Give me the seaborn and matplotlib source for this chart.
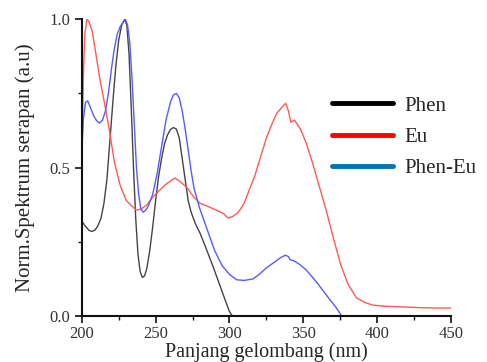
import numpy as np
import pandas as pd
import matplotlib
matplotlib.use("Agg")
import matplotlib.pyplot as plt
import seaborn as sns
from matplotlib.lines import Line2D
from matplotlib.ticker import MultipleLocator, FormatStrFormatter

phen_x = [200, 202, 205, 207, 209, 211, 213, 215, 217, 219, 221, 223, 225, 227, 229, 230.5, 232, 233.5, 235, 236.5, 238, 239.5, 241, 242.5, 244, 246, 248, 250, 252, 254, 256, 258, 260, 262, 264, 266, 268, 270, 272, 274, 277, 280, 284, 289, 293, 297, 300, 302]
phen_y = [0.32, 0.305, 0.288, 0.285, 0.29, 0.305, 0.33, 0.38, 0.46, 0.59, 0.72, 0.84, 0.93, 0.98, 1.0, 0.98, 0.88, 0.70, 0.5, 0.33, 0.21, 0.15, 0.13, 0.135, 0.16, 0.22, 0.3, 0.39, 0.47, 0.53, 0.58, 0.61, 0.628, 0.635, 0.63, 0.6, 0.53, 0.46, 0.39, 0.35, 0.31, 0.28, 0.23, 0.165, 0.11, 0.055, 0.015, 0.0]

phen_eu_x = [200, 201, 202.5, 204, 206, 208, 210, 212, 214, 216, 218, 220, 222, 224, 226, 228, 229.5, 231, 232.5, 234, 235.5, 237, 238.5, 240, 241.5, 243, 245, 248, 251, 254, 257, 260, 262, 264, 266, 268, 270, 272, 274, 276, 280, 285, 290, 295, 300, 305, 310, 316, 320, 325, 330, 335, 338, 340, 341, 344, 348, 352, 358, 363, 368, 372, 376]
phen_eu_y = [0.55, 0.66, 0.72, 0.725, 0.70, 0.675, 0.658, 0.65, 0.66, 0.69, 0.75, 0.83, 0.9, 0.95, 0.975, 0.99, 1.0, 0.98, 0.92, 0.8, 0.65, 0.5, 0.41, 0.36, 0.35, 0.355, 0.37, 0.41, 0.48, 0.57, 0.66, 0.72, 0.745, 0.75, 0.735, 0.69, 0.63, 0.56, 0.49, 0.43, 0.36, 0.29, 0.22, 0.17, 0.14, 0.122, 0.12, 0.125, 0.14, 0.162, 0.18, 0.198, 0.205, 0.2, 0.19, 0.185, 0.172, 0.155, 0.12, 0.088, 0.055, 0.03, 0.0]

eu_x = [200, 201, 202, 203.5, 205, 207, 209, 212, 216, 219, 222, 226, 230, 234, 237, 240, 244, 248, 252, 256, 260, 263, 266, 271, 276, 280, 285, 291, 296, 299, 302, 305, 307, 310, 313, 317, 321, 325, 329, 332, 335, 338, 340, 341.5, 344, 348, 352, 356, 359, 363, 366, 370, 375, 380, 386, 392, 397, 405, 412, 420, 430, 440, 450]
eu_y = [0.5, 0.8, 0.95, 1.0, 0.99, 0.96, 0.9, 0.805, 0.7, 0.616, 0.52, 0.44, 0.39, 0.37, 0.357, 0.36, 0.374, 0.4, 0.42, 0.44, 0.455, 0.465, 0.455, 0.434, 0.4, 0.38, 0.37, 0.357, 0.345, 0.33, 0.335, 0.345, 0.357, 0.38, 0.42, 0.47, 0.535, 0.6, 0.65, 0.683, 0.7, 0.717, 0.69, 0.653, 0.66, 0.63, 0.582, 0.52, 0.468, 0.4, 0.347, 0.27, 0.178, 0.11, 0.061, 0.045, 0.037, 0.033, 0.032, 0.03, 0.028, 0.027, 0.027]

series_names = ["Phen", "Eu", "Phen-Eu"]
line_colors = {"Phen": "#444444", "Eu": "#ff5a5a", "Phen-Eu": "#5a5aff"}
legend_colors = ["#000000", "#ff0000", "#0070c0"]

df = pd.concat([
    pd.DataFrame({"x": phen_x, "y": phen_y, "s": "Phen"}),
    pd.DataFrame({"x": eu_x, "y": eu_y, "s": "Eu"}),
    pd.DataFrame({"x": phen_eu_x, "y": phen_eu_y, "s": "Phen-Eu"}),
], ignore_index=True)

sns.set_style("ticks")
plt.rcParams["font.family"] = ["Liberation Serif", "DejaVu Serif"]

fig = plt.figure(figsize=(4.87, 3.62), dpi=100)
ax = fig.add_axes([0.168, 0.127, 0.758, 0.82])

for name in series_names:
    sub = df[df["s"] == name]
    sns.lineplot(data=sub, x="x", y="y", ax=ax, color=line_colors[name],
                 linewidth=1.0, sort=False, estimator=None, legend=False)

ax.set_xlim(200, 450)
ax.set_ylim(0, 1.0)
ax.xaxis.set_major_locator(MultipleLocator(50))
ax.xaxis.set_minor_locator(MultipleLocator(25))
ax.yaxis.set_major_locator(MultipleLocator(0.5))
ax.yaxis.set_minor_locator(MultipleLocator(0.25))
ax.yaxis.set_major_formatter(FormatStrFormatter("%.1f"))
ax.tick_params(which="major", direction="out", length=5, width=1.2, labelsize=12,
               colors="#111111", labelcolor="#333333")
ax.tick_params(axis="x", which="major", pad=2.5)
ax.tick_params(which="minor", direction="out", length=3, width=1.0, colors="#111111")
for sp in ["top", "right"]:
    ax.spines[sp].set_visible(False)
for sp in ["left", "bottom"]:
    ax.spines[sp].set_linewidth(1.5)
    ax.spines[sp].set_color("#111111")

ax.set_xlabel("Panjang gelombang (nm)", fontsize=14.5, labelpad=0)
ax.set_ylabel("Norm.Spektrum serapan (a.u)", fontsize=15, labelpad=10)

handles = [Line2D([0], [0], color=c, linewidth=3.5) for c in legend_colors]
ax.legend(handles, series_names, loc="center left", bbox_to_anchor=(0.678, 0.603),
          frameon=False, fontsize=15, handlelength=2.9, handletextpad=0.58,
          labelspacing=0.55, borderpad=0, borderaxespad=0)

fig.savefig("out.png", dpi=100)
